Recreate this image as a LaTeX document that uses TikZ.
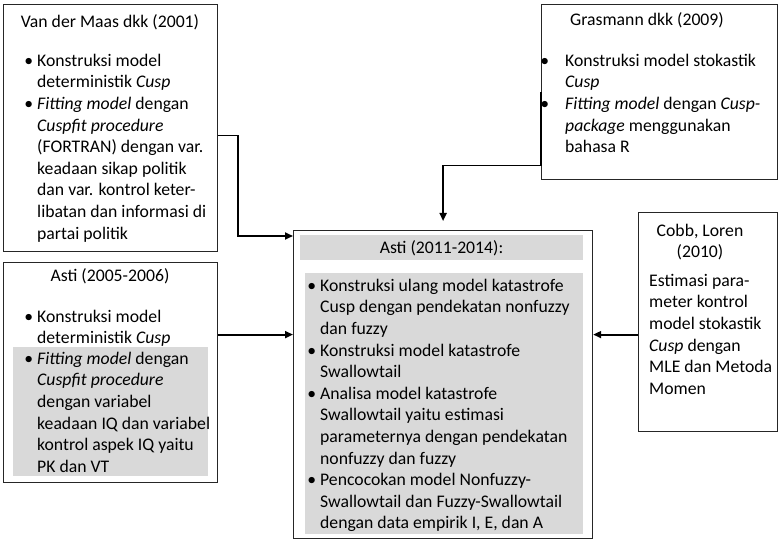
\documentclass[tikz,border=0pt]{standalone}
\usepackage{fontspec}
\setmainfont{Carlito}
\usetikzlibrary{arrows.meta}
\definecolor{bandgray}{HTML}{D9D9D9}
\newcommand{\bodyfont}{\fontsize{17.7}{21.6}\selectfont}
\newcommand{\bul}[1]{\strut\llap{\textbullet\hspace{#1}}}
\tikzset{
  box/.style={draw=black!85, line width=1.2pt, anchor=north west, inner sep=0pt},
  band/.style={fill=bandgray, anchor=north west, inner sep=0pt},
  txt/.style={anchor=north west, inner sep=0pt, align=left, yshift=15.1pt, font=\bodyfont},
  ttl/.style={anchor=base, inner sep=0pt, font=\bodyfont},
  conn/.style={line width=1.8pt, -{Triangle[length=8pt,width=7pt]}}
}
\begin{document}
\begin{tikzpicture}[x=1pt,y=-1pt]
\useasboundingbox (0,0) rectangle (779,540);
\node[band, minimum width=195pt, minimum height=129pt] (band05) at (13,347) {};
\node[band, minimum width=283pt, minimum height=25pt] (bandtt) at (300,235) {};
\node[band, minimum width=278pt, minimum height=261pt] (band11) at (305,273) {};
\node[box, minimum width=214pt, minimum height=247pt] (maas) at (3,4) {};
\node[box, minimum width=214pt, minimum height=220pt] (asti05) at (3,262) {};
\node[box, minimum width=236pt, minimum height=175pt] (gras) at (541,4) {};
\node[box, minimum width=139pt, minimum height=219pt] (cobb) at (638,212) {};
\node[box, minimum width=299pt, minimum height=308pt] (asti11) at (293,230) {};
\node[ttl] (maasttl) at (110,28) {Van der Maas dkk (2001)};
\node[txt] (maastxt) at (37,66) {\bul{4pt}Konstruksi model\\
deterministik \textit{Cusp}\\
\bul{4pt}\textit{Fitting model} dengan\\
\textit{Cuspfit procedure}\\
(FORTRAN) dengan var.\\
keadaan sikap politik\\
dan var. kontrol keter-\\
libatan dan informasi di\\
partai politik};
\node[ttl] (astittl) at (110,281) {Asti (2005-2006)};
\node[txt] (astitxta) at (37,322) {\bul{4pt}Konstruksi model\\
deterministik \textit{Cusp}};
\node[txt] (astitxtb) at (37,364) {\bul{4pt}\textit{Fitting model} dengan\\
\textit{Cuspfit procedure}\\
dengan variabel\\
keadaan IQ dan variabel\\
kontrol aspek IQ yaitu\\
PK dan VT};
\node[ttl] (grasttl) at (647,26) {Grasmann dkk (2009)};
\node[txt] (grastxt) at (565,66) {\bul{16pt}Konstruksi model stokastik\\
\textit{Cusp}\\
\bul{16pt}\textit{Fitting model} dengan \textit{Cusp-}\\
\textit{package} menggunakan\\
bahasa R};
\node[txt, anchor=north, align=center] (cobbttl) at (700,236) {\strut Cobb, Loren\\(2010)};
\node[txt] (cobbtxt) at (649,286) {\strut Estimasi para-\\
meter kontrol\\
model stokastik\\
\textit{Cusp} dengan\\
MLE dan Metoda\\
Momen};
\node[ttl] (asti11ttl) at (441.5,253) {Asti (2011-2014):};
\node[txt] (asti11txt) at (320,291) {\bul{4pt}Konstruksi ulang model katastrofe\\
Cusp dengan pendekatan nonfuzzy\\
dan fuzzy\\
\bul{4pt}Konstruksi model katastrofe\\
Swallowtail\\
\bul{4pt}Analisa model katastrofe\\
Swallowtail yaitu estimasi\\
parameternya dengan pendekatan\\
nonfuzzy dan fuzzy\\
\bul{4pt}Pencocokan model Nonfuzzy-\\
Swallowtail dan Fuzzy-Swallowtail\\
dengan data empirik I, E, dan A};
\coordinate (inL) at ([yshift=50pt]asti11.west);
\coordinate (inR) at ([yshift=50pt]asti11.east);
\coordinate (inT) at ([yshift=9pt]asti11.north);
\draw[conn] ([yshift=-7.5pt]maas.east) -- ++(20,0) |- ([yshift=-6pt]asti11.north west);
\draw[conn] (asti05.east |- inL) -- (inL);
\draw[conn] (cobb.west |- inR) -- (inR);
\draw[conn] (gras.west) -- ([yshift=-73.5pt]gras.west) -| (inT);
\end{tikzpicture}
\end{document}
